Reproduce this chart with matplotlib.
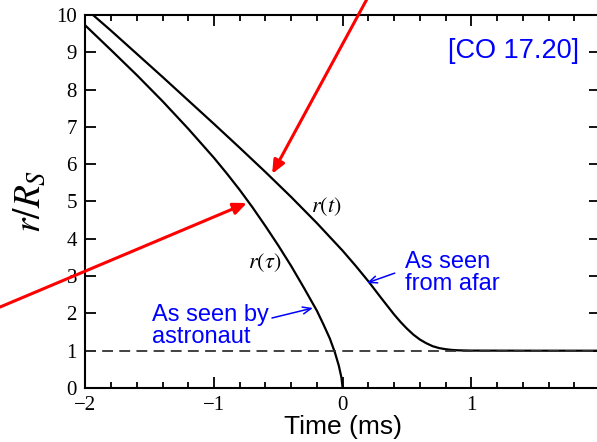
import matplotlib
matplotlib.use("Agg")
import matplotlib.pyplot as plt
from matplotlib.ticker import MultipleLocator, FixedLocator, FixedFormatter

plt.rcParams['mathtext.fontset'] = 'stix'
plt.rcParams['font.family'] = ['Liberation Serif', 'DejaVu Serif']

# proper time of the falling astronaut (ms) and radius r/R_S
tau = [-2.0, -1.8, -1.6, -1.4, -1.2, -1.0, -0.9, -0.8, -0.7, -0.6, -0.5,
       -0.4, -0.3, -0.2, -0.15, -0.1, -0.06, -0.03, -0.01, 0.0]
r_tau = [9.72, 9.06, 8.39, 7.69, 6.95, 6.17, 5.75, 5.31, 4.84, 4.34, 3.82,
         3.27, 2.68, 2.07, 1.71, 1.33, 0.95, 0.60, 0.29, 0.0]

# coordinate time as seen from afar
t = [-1.94, -1.8, -1.6, -1.4, -1.2, -1.0, -0.8, -0.6, -0.4, -0.2, 0.0, 0.1,
     0.2, 0.3, 0.4, 0.45, 0.5, 0.55, 0.6, 0.65, 0.7, 0.75, 0.8, 0.85, 0.9,
     1.0, 1.5, 2.0]
r_t = [10.0, 9.58, 8.96, 8.34, 7.71, 7.08, 6.44, 5.79, 5.12, 4.42, 3.68, 3.28,
       2.86, 2.41, 1.97, 1.77, 1.59, 1.43, 1.30, 1.20, 1.12, 1.07, 1.04, 1.02,
       1.01, 1.003, 1.0, 1.0]

horizon = 1.0
xticks = [-2, -1, 0, 1, 2]
xlabels = ['\u22122', '\u22121', '0', '1', '']

fig = plt.figure(figsize=(5.97, 4.42), dpi=100)
ax = fig.add_axes([85.3 / 597, 54 / 442, 514.7 / 597, 373 / 442])

ax.plot(tau, r_tau, color='black', lw=1.6)
ax.plot(t, r_t, color='black', lw=1.6)
ax.axhline(horizon, color='#333333', lw=1.3, ls=(0, (6, 3.5)))

ax.set_xlim(-2, 2)
ax.set_ylim(0, 10)
ax.xaxis.set_major_locator(FixedLocator(xticks))
ax.xaxis.set_major_formatter(FixedFormatter(xlabels))
ax.xaxis.set_minor_locator(MultipleLocator(0.2))
ax.yaxis.set_major_locator(MultipleLocator(1))
ax.tick_params(which='both', direction='in', top=True, right=True,
               width=1.3, labelsize=15, pad=6)
ax.tick_params(which='major', length=8)
ax.tick_params(which='minor', length=4)
for s in ax.spines.values():
    s.set_linewidth(1.5)

ax.set_xlabel('Time (ms)', fontsize=19, family=['Liberation Sans'], labelpad=0)
ax.set_ylabel(r'$r/R_S$', fontsize=27, labelpad=6)

ax.text(-0.124, 4.85, r'$r(t)$', fontsize=16, ha='center', va='center')
ax.text(-0.603, 3.35, r'$r(\tau)$', fontsize=16, ha='center', va='center')

blue = '#0000ff'
ax.text(-1.48, 2.25, 'As seen by\nastronaut', color=blue, fontsize=17,
        family=['Liberation Sans'], ha='left', va='top', linespacing=1.0)
ax.text(0.483, 3.68, 'As seen\nfrom afar', color=blue, fontsize=17,
        family=['Liberation Sans'], ha='left', va='top', linespacing=1.0)
ax.text(0.817, 9.03, '[CO 17.20]', color=blue, fontsize=19.5,
        family=['Liberation Sans'], ha='left', va='center')

blue_arrow = dict(arrowstyle='->,head_length=0.6,head_width=0.25',
                  color=blue, lw=1.1, shrinkA=0, shrinkB=0)
ax.annotate('', xy=(-0.231, 2.145), xytext=(-0.549, 1.877), arrowprops=blue_arrow)
ax.annotate('', xy=(0.188, 2.815), xytext=(0.405, 3.08), arrowprops=blue_arrow)

red_arrow = dict(arrowstyle='-|>,head_length=0.8,head_width=0.35',
                 color='red', lw=2.2, shrinkA=0, shrinkB=0)
a1 = ax.annotate('', xy=(-0.548, 5.74), xytext=(0.227, 10.67),
                 arrowprops=red_arrow, annotation_clip=False)
a2 = ax.annotate('', xy=(-0.744, 4.96), xytext=(-2.663, 2.17),
                 arrowprops=red_arrow, annotation_clip=False)
for a in (a1, a2):
    a.arrow_patch.set_clip_on(False)

fig.savefig('out.png', dpi=100)
